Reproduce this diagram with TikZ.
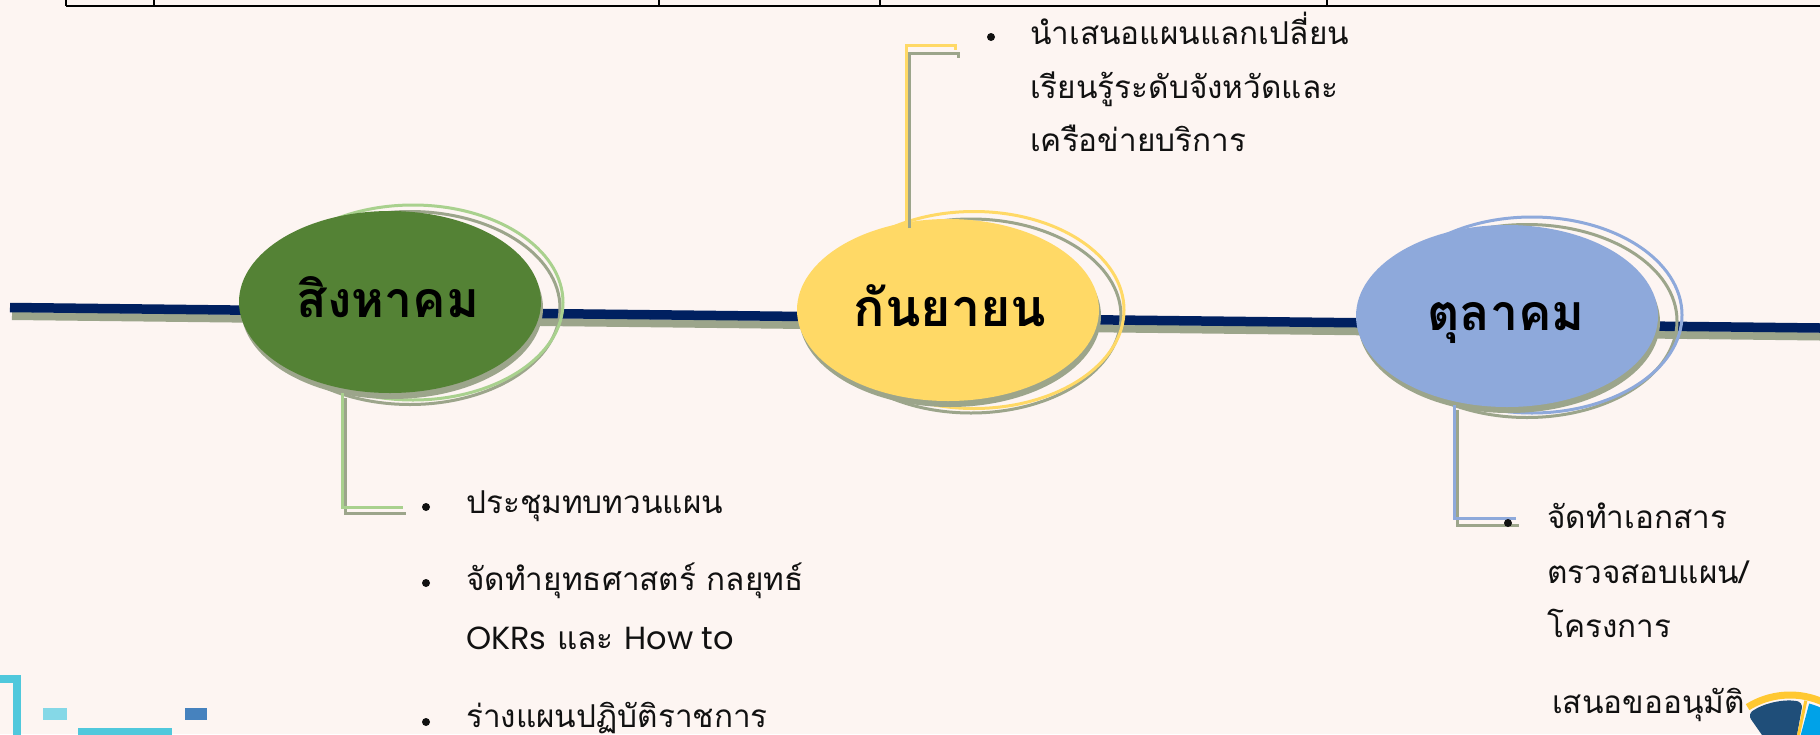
\documentclass[tikz,border=0pt]{standalone}
\usepackage{fontspec}
\newfontfamily\thai[Script=Thai]{Loma}
\newfontfamily\latinfont{Poppins}
\usetikzlibrary{shapes.geometric,calc}
\definecolor{bg}{RGB}{253,245,242}
\definecolor{navy}{RGB}{0,32,96}
\definecolor{shadowgrey}{RGB}{156,165,139}
\definecolor{gfill}{RGB}{84,130,53}
\definecolor{gline}{RGB}{169,209,142}
\definecolor{yfill}{RGB}{255,217,102}
\definecolor{bfill}{RGB}{142,169,219}
\definecolor{txt}{RGB}{17,17,17}
\definecolor{icdark}{RGB}{31,78,121}
\definecolor{iclight}{RGB}{0,162,232}
\definecolor{iccyan}{RGB}{80,200,220}
\definecolor{icblue}{RGB}{70,130,190}
\definecolor{icyel}{RGB}{255,200,50}
\begin{document}
\begin{tikzpicture}[x=1pt,y=-1pt,
  fillell/.style={ellipse, inner sep=0pt, minimum width=302pt, minimum height=182pt, draw=none},
  ringell/.style={ellipse, inner sep=0pt, minimum width=300pt, fill=none, line width=3pt},
  heading/.style={anchor=base, font=\thai\bfseries\fontsize{50}{60}\selectfont, text=black, inner sep=0pt},
  body/.style={anchor=base west, font=\thai\fontsize{31.5}{36}\selectfont, text=txt, inner sep=0pt},
  bulletdot/.style={circle, fill=txt, inner sep=0pt, minimum size=8pt},
  bracket/.style={line width=3pt},
  tableline/.style={line width=2pt, black}
]
\useasboundingbox (0,0) rectangle (1820,734);
\fill[bg] (0,0) rectangle (1820,734);
\clip (0,0) rectangle (1820,734);

% top table lines
\coordinate (t0) at (66,6);
\coordinate (t1) at (1820,6);
\draw[tableline] (t0) -- (t1);
\foreach \xx in {66,154,659,880,1327}{\draw[line width=1.6pt] (\xx,0) -- (\xx,6);}

% main timeline
\coordinate (ls) at (10,307.5);
\coordinate (le) at (1820,328);
\draw[shadowgrey, line width=8pt] ($(ls)+(2,8.5)$) -- ($(le)+(0,8.5)$);
\draw[navy, line width=9.5pt] (ls) -- (le);

% ---- August (green)
\node[ringell, draw=shadowgrey, minimum height=193pt] (augrs) at (410,308) {};
\node[ringell, draw=gline, minimum height=195pt] (augr) at (413,302.5) {};
\node[fillell, fill=shadowgrey] (augs) at (392,308) {};
\node[fillell, fill=gfill] (aug) at (390,302) {};
\node[heading] (augt) at (388,317) {สิงหาคม};

% ---- September (yellow)
\node[ringell, draw=shadowgrey, minimum height=194pt] (seprs) at (971,316) {};
\node[ringell, draw=yfill, minimum height=197pt] (sepr) at (974,310) {};
\node[fillell, fill=shadowgrey] (seps) at (950,316) {};
\node[fillell, fill=yfill] (sep) at (948,310) {};
\node[heading, font=\thai\bfseries\fontsize{52}{60}\selectfont] (sept) at (950,326) {กันยายน};

% ---- October (blue)
\node[ringell, draw=shadowgrey, minimum height=193pt] (octrs) at (1527,321) {};
\node[ringell, draw=bfill, minimum height=196pt] (octr) at (1532,315) {};
\node[fillell, fill=shadowgrey] (octs) at (1509,322) {};
\node[fillell, fill=bfill] (oct) at (1507,316) {};
\node[heading] (octt) at (1506,330) {ตุลาคม};

% ---- left bullets
\node[bulletdot] (bl1) at (426,507) {};
\node[body] (l1) at (466,513) {ประชุมทบทวนแผน};
\node[bulletdot] (bl2) at (426,583) {};
\node[body] (l2) at (466,590) {จัดทำยุทธศาสตร์ กลยุทธ์};
\node[body] (l3) at (466,649) {{\latinfont\fontsize{32}{36}\selectfont OKRs} และ {\latinfont\fontsize{32}{36}\selectfont How to}};
\node[bulletdot] (bl4) at (426,722) {};
\node[body] (l4) at (466,727) {ร่างแผนปฏิบัติราชการ};

% ---- top bullets
\node[bulletdot] (bt1) at (991,37) {};
\node[body] (tt1) at (1030,44) {นำเสนอแผนแลกเปลี่ยน};
\node[body] (tt2) at (1030,98) {เรียนรู้ระดับจังหวัดและ};
\node[body] (tt3) at (1030,151) {เครือข่ายบริการ};

% ---- right bullets
\node[body] (r1) at (1547,528) {จัดทำเอกสาร};
\node[body] (r2) at (1547,583) {ตรวจสอบแผน/};
\node[body] (r3) at (1547,637) {โครงการ};
\node[body] (r4) at (1552,713) {เสนอขออนุมัติ};

% ---- brackets
% green
\coordinate (gA) at (345,398);
\coordinate (gB) at (345,513);
\coordinate (gC) at (406,513);
\draw[bracket, shadowgrey] (gA) -- (gB) -- (gC);
\coordinate (ga) at (342,393);
\coordinate (gb) at (342,507);
\coordinate (gc) at (403,507);
\draw[bracket, gline] (ga) -- (gb) -- (gc);
% yellow
\coordinate (yA) at (909,228);
\coordinate (yB) at (909,53);
\coordinate (yC) at (958,53);
\coordinate (yD) at (958,58);
\draw[bracket, shadowgrey] (yA) -- (yB) -- (yC) -- (yD);
\coordinate (ya) at (906,224);
\coordinate (yb) at (906,45);
\coordinate (yc) at (955,45);
\coordinate (yd) at (955,50);
\draw[bracket, yfill] (ya) -- (yb) -- (yc) -- (yd);
% blue
\coordinate (bA) at (1457,410);
\coordinate (bB) at (1457,525);
\coordinate (bC) at (1519,525);
\draw[bracket, shadowgrey] (bA) -- (bB) -- (bC);
\coordinate (ba) at (1454,405);
\coordinate (bb) at (1454,518);
\coordinate (bc) at (1516,518);
\draw[bracket, bfill] (ba) -- (bb) -- (bc);
\node[bulletdot] (br1) at (1508,523) {};

% ---- partial icon bottom right (y axis points down: upward = negative angles)
\coordinate (pc) at (1790,775);
\draw[icyel, line width=7pt] (pc) ++(-20:80) arc[start angle=-20, end angle=-122, radius=80];
\fill[icdark, rounded corners=6pt] (pc) -- ++(-80:74) arc[start angle=-80, end angle=-125, radius=74] -- cycle;
\fill[iclight] (pc) -- ++(0:74) arc[start angle=0, end angle=-75, radius=74] -- cycle;
\draw[icyel, line width=3pt] (pc) -- ++(-78:76);

% ---- partial icon bottom left
\draw[iccyan, line width=8pt] (0,679) -- (17,679) -- (17,740);
\fill[iccyan!70] (43,708) rectangle (67,720);
\fill[icblue] (185,708) rectangle (207,720);
\fill[iccyan] (78,728) rectangle (172,740);
\end{tikzpicture}
\end{document}
